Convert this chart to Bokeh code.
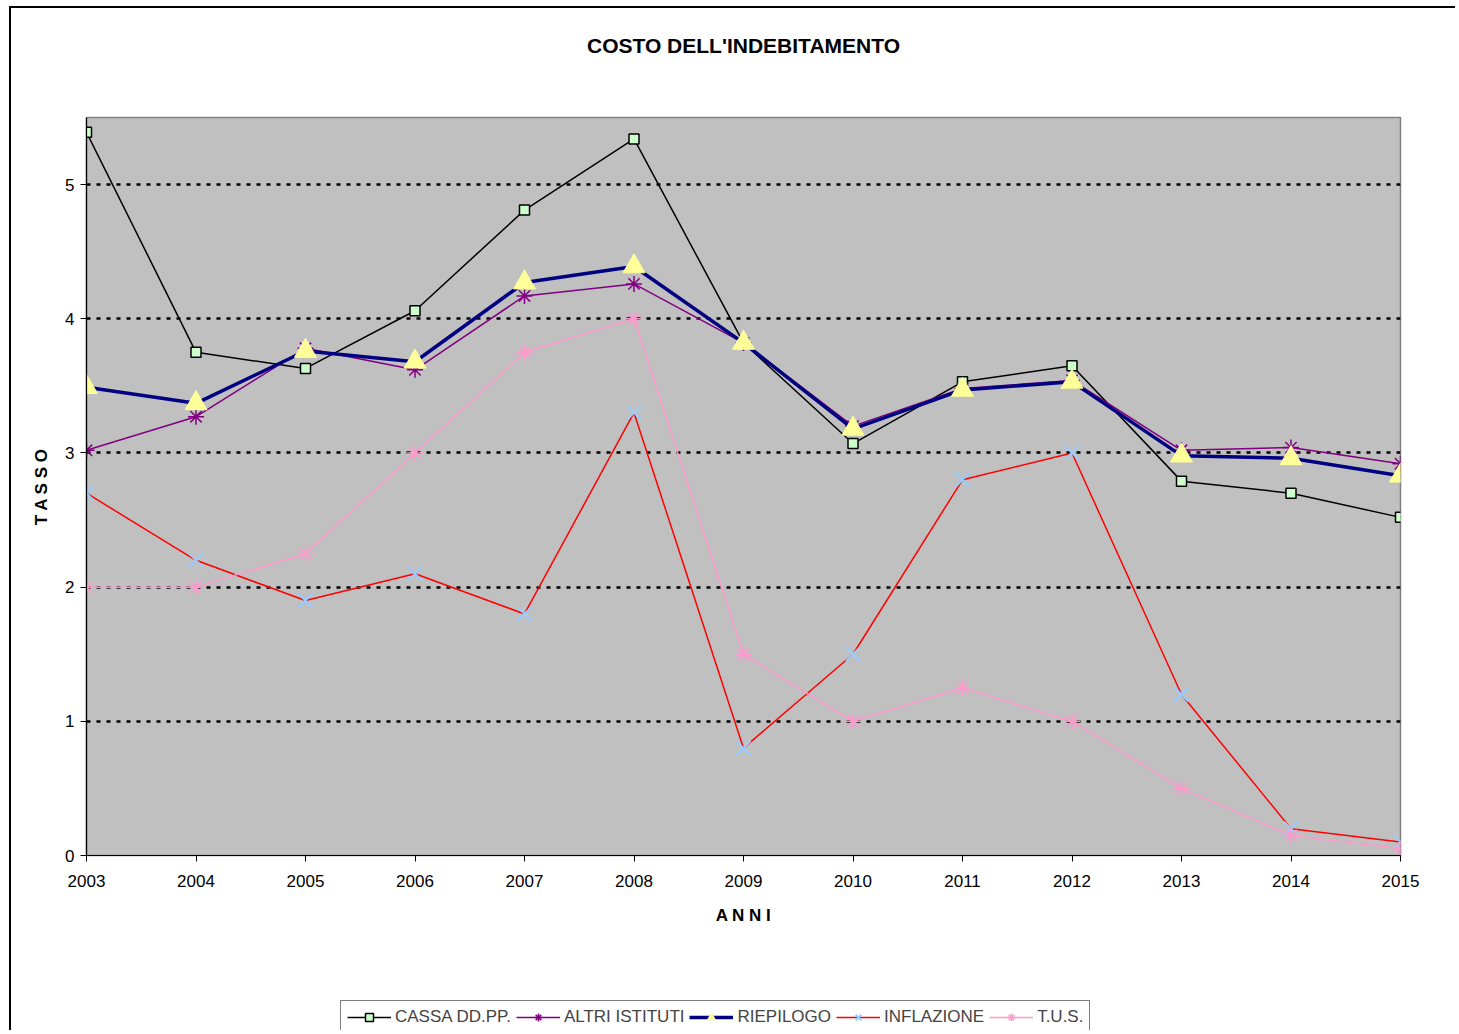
from bokeh.plotting import figure
from bokeh.layouts import column
from bokeh.models import Legend, LegendItem, Range1d, FixedTicker, LinearAxis, Title
from bokeh.embed import file_html
from bokeh.resources import INLINE

years = [2003, 2004, 2005, 2006, 2007, 2008, 2009, 2010, 2011, 2012, 2013, 2014, 2015]
cassa = [5.39, 3.75, 3.63, 4.06, 4.81, 5.34, 3.82, 3.07, 3.53, 3.65, 2.79, 2.70, 2.52]
altri = [3.02, 3.27, 3.78, 3.62, 4.17, 4.26, 3.82, 3.20, 3.48, 3.54, 3.02, 3.04, 2.92]
riepilogo = [3.49, 3.37, 3.76, 3.68, 4.27, 4.39, 3.82, 3.18, 3.47, 3.53, 2.98, 2.96, 2.83]
inflazione = [2.7, 2.2, 1.9, 2.1, 1.8, 3.3, 0.8, 1.5, 2.8, 3.0, 1.2, 0.2, 0.1]
tus = [2.0, 2.0, 2.25, 3.0, 3.75, 4.0, 1.5, 1.0, 1.25, 1.0, 0.5, 0.15, 0.05]
y_ticks = [0, 1, 2, 3, 4, 5]
series_names = ["CASSA DD.PP.", "ALTRI ISTITUTI", "RIEPILOGO", "INFLAZIONE", "T.U.S."]

FONT = "Liberation Sans"
W = 1446

p = figure(width=W, height=987, output_backend="svg", toolbar_location=None,
           x_range=Range1d(2003, 2015), y_range=Range1d(0, 5.5),
           min_border_left=75, min_border_right=57, min_border_top=109, min_border_bottom=140,
           background_fill_color="#C0C0C0", border_fill_color="white",
           outline_line_color="#808080", outline_line_width=1.5,
           margin=(6, 0, 0, 9),
           styles={"border-left": "2px solid black", "border-top": "2px solid black"})
try:
    p.title = None
except Exception:
    p.title.text = ""

xa = p.below[0]
ya = p.left[0]
xa.ticker = FixedTicker(ticks=years)
ya.ticker = FixedTicker(ticks=y_ticks)
for ax in (xa, ya):
    ax.axis_line_color = "black"
    ax.axis_line_width = 1.2
    ax.major_tick_in = 0
    ax.major_tick_out = 6
    ax.major_tick_line_color = "black"
    ax.minor_tick_line_color = None
    ax.major_label_text_font = FONT
    ax.major_label_text_font_size = "17px"
    ax.major_label_text_color = "black"
    ax.axis_label_text_font = FONT
    ax.axis_label_text_font_size = "17px"
    ax.axis_label_text_font_style = "bold"
    ax.axis_label_text_color = "black"
xa.axis_label = "A N N I"
ya.axis_label = "T A S S O"
xa.major_label_standoff = 13
ya.major_label_standoff = 6
xa.axis_label_standoff = 16
ya.axis_label_standoff = 11

# invisible spacer between frame and title: one white tick, empty label
top_spacer = LinearAxis(ticker=FixedTicker(ticks=[years[0]]), axis_line_color=None,
                        major_tick_line_color="white", minor_tick_line_color=None,
                        major_tick_in=0, major_tick_out=56, major_label_standoff=0,
                        major_label_overrides={years[0]: ""},
                        major_label_text_font_size="1px", major_label_text_color="white")
p.add_layout(top_spacer, "above")
p.add_layout(Title(text="COSTO DELL'INDEBITAMENTO", align="center", text_font=FONT,
                   text_font_size="21px", text_font_style="bold", text_color="black",
                   standoff=10), "above")

p.xgrid.grid_line_color = None
p.ygrid.grid_line_color = "black"
p.ygrid.grid_line_dash = "4 6"
p.ygrid.grid_line_width = 2.5

styles = [
    dict(line=dict(line_color="black", line_width=1.5),
         mark=dict(marker="square", size=10, fill_color="#CCFFCC", line_color="black", line_width=1.5)),
    dict(line=dict(line_color="#800080", line_width=1.5),
         mark=dict(marker="asterisk", size=16, line_color="#800080", line_width=1.5)),
    dict(line=dict(line_color="#000080", line_width=3.5),
         mark=dict(marker="triangle", size=22, fill_color="#FFFF99", line_color="#FFFF99")),
    dict(line=dict(line_color="#FF0000", line_width=1.5),
         mark=dict(marker="x", size=20, line_color="#99CCFF", line_width=2)),
    dict(line=dict(line_color="#FF99CC", line_width=1.5),
         mark=dict(marker="asterisk", size=16, line_color="#FF99CC", line_width=1.5)),
]
series = [cassa, altri, riepilogo, inflazione, tus]

for vals, st in zip(series, styles):
    p.line(years, vals, **st["line"])
    p.scatter(years, vals, **st["mark"])

# legend strip below the chart (its proxy glyphs lie outside its own visible range)
lf = figure(width=W, height=37, output_backend="svg", toolbar_location=None,
            x_range=Range1d(0, 1), y_range=Range1d(0, 1),
            x_axis_location=None, y_axis_location=None, min_border=0,
            background_fill_color="white", border_fill_color="white",
            outline_line_color=None, margin=(0, 0, 0, 9),
            styles={"border-left": "2px solid black"})
try:
    lf.title = None
except Exception:
    pass
lf.grid.grid_line_color = None
items = []
for name, vals, st in zip(series_names, series, styles):
    rl = lf.line(years, vals, **st["line"])
    rs = lf.scatter(years, vals, **st["mark"])
    items.append(LegendItem(label=name, renderers=[rl, rs]))

legend = Legend(items=items, orientation="horizontal", location=(254, -4),
                label_text_font=FONT, label_text_font_size="17px",
                glyph_width=44, glyph_height=20, label_standoff=4, spacing=5, padding=6, margin=0,
                border_line_color="black", border_line_width=1, background_fill_color="white",
                background_fill_alpha=1)
lf.add_layout(legend, "center")

layout = column(p, lf, spacing=0)
open("out.html", "w").write(file_html(layout, INLINE))
